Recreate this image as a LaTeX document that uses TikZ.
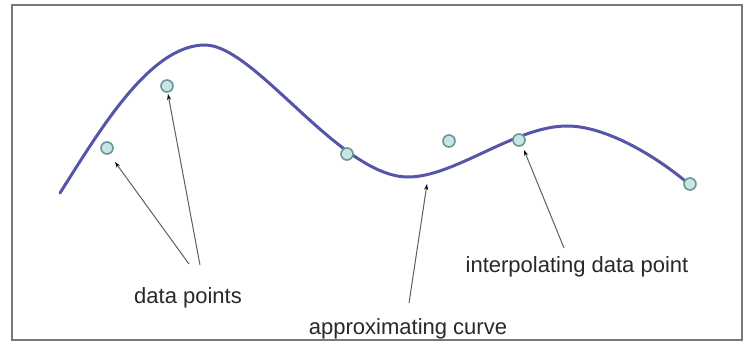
\documentclass[tikz,border=0pt]{standalone}
\usepackage{fontspec}
\setmainfont{Liberation Sans}
\usetikzlibrary{arrows.meta}
\definecolor{curvecol}{RGB}{85,85,170}
\definecolor{ptfill}{RGB}{200,228,228}
\definecolor{ptdraw}{RGB}{105,150,150}
\definecolor{arrcol}{RGB}{95,95,95}
\definecolor{framecol}{RGB}{120,120,120}
\definecolor{txtcol}{RGB}{40,40,40}
\tikzset{
  datapt/.style={circle,draw=ptdraw,fill=ptfill,line width=1.6pt,minimum size=12pt,inner sep=0pt},
  pointer/.style={draw=arrcol,line width=1pt,-{Stealth[length=6pt,width=4pt,color=black]}},
  lbl/.style={font=\fontsize{22}{26}\selectfont,text=txtcol,inner sep=0pt},
  curveline/.style={draw=curvecol,line width=3pt,line cap=round}
}
\begin{document}
\begin{tikzpicture}[x=1pt,y=-1pt]
\useasboundingbox (0,0) rectangle (744,350);
\draw[framecol,line width=1.5pt] (12,5) rectangle (742,340);
% curve
\draw[curveline] (60,193) .. controls (100,130) and (150,45) .. (205,45)
  .. controls (255,45) and (340,177) .. (408,177)
  .. controls (455,177) and (515,126) .. (567,126)
  .. controls (605,126) and (655,155) .. (690,185);
% data points
\node[datapt] (p1) at (107,148) {};
\node[datapt] (p2) at (167,86) {};
\node[datapt] (p3) at (347,154) {};
\node[datapt] (p4) at (449,141) {};
\node[datapt] (p5) at (519,140) {};
\node[datapt] (p6) at (690,184) {};
\coordinate (c1) at (427,184);
% labels
\node[lbl] (ldp) at (188,298) {data points};
\node[lbl] (lac) at (408,329) {approximating curve};
\node[lbl] (lid) at (577,267) {interpolating data point};
% anchors for pointer tails
\coordinate (t1) at (189,264);
\coordinate (t2) at (200,265);
\coordinate (t3) at (409,303);
\coordinate (t4) at (564,248);
\coordinate (h1) at (115,162);
\coordinate (h2) at (168,94);
\coordinate (h4) at (524,150);
\draw[pointer] (t1) -- (h1);
\draw[pointer] (t2) -- (h2);
\draw[pointer] (t3) -- (c1);
\draw[pointer] (t4) -- (h4);
\end{tikzpicture}
\end{document}
